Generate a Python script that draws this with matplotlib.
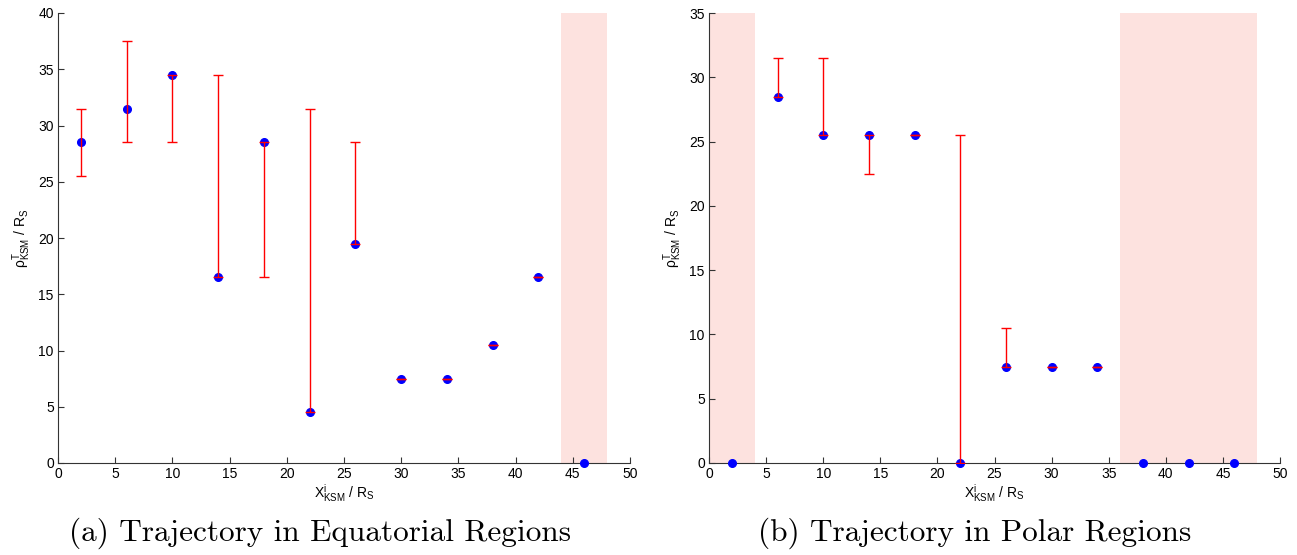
import numpy as np
import matplotlib
matplotlib.use("Agg")
import matplotlib.pyplot as plt

plt.rcParams['font.family'] = ['Liberation Sans', 'DejaVu Sans']
plt.rcParams['mathtext.fontset'] = 'custom'
plt.rcParams['mathtext.rm'] = 'Liberation Sans'
plt.rcParams['mathtext.it'] = 'Liberation Sans:italic'

x_pos = [2, 6, 10, 14, 18, 22, 26, 30, 34, 38, 42, 46]

# (a) Equatorial
eq_y = [28.5, 31.5, 34.5, 16.5, 28.5, 4.5, 19.5, 7.5, 7.5, 10.5, 16.5, 0]
eq_lo = [3, 3, 6, 0, 12, 0, 0, 0, 0, 0, 0, 0]
eq_hi = [3, 6, 0, 18, 0, 27, 9, 0, 0, 0, 0, 0]
eq_has_err = [1, 1, 1, 1, 1, 1, 1, 1, 1, 1, 1, 0]
eq_shade = [(44, 48)]

# (b) Polar
po_y = [0, 28.5, 25.5, 25.5, 25.5, 0, 7.5, 7.5, 7.5, 0, 0, 0]
po_lo = [0, 0, 0, 3, 0, 0, 0, 0, 0, 0, 0, 0]
po_hi = [0, 3, 6, 0, 0, 25.5, 3, 0, 0, 0, 0, 0]
po_has_err = [0, 1, 1, 1, 1, 1, 1, 1, 1, 0, 0, 0]
po_shade = [(0, 4), (36, 48)]

captions = ["(a) Trajectory in Equatorial Regions", "(b) Trajectory in Polar Regions"]

W, H = 1297, 555
fig = plt.figure(figsize=(W / 100, H / 100), dpi=100)

def px_axes(l, r, t, b):
    return fig.add_axes([l / W, 1 - b / H, (r - l) / W, (b - t) / H])

ax1 = px_axes(58, 630, 13, 463)
ax2 = px_axes(709, 1280, 13, 463)

shade_color = '#fde2df'

def draw(ax, y, lo, hi, has, shades, ymax):
    for a, b in shades:
        ax.axvspan(a, b, color=shade_color, lw=0, zorder=0)
    x = np.array(x_pos, float)
    y = np.array(y, float)
    lo = np.array(lo, float)
    hi = np.array(hi, float)
    m = np.array(has, bool)
    ax.plot(x, y, 'o', color='#0000ff', ms=5.5, zorder=3, clip_on=False)
    ax.errorbar(x[m], y[m], yerr=[lo[m], hi[m]], fmt='none', ecolor='#ff0000',
                elinewidth=1.0, capsize=3.7, capthick=1.0, zorder=4)
    ax.set_xlim(0, 50)
    ax.set_ylim(0, ymax)
    ax.set_xticks(np.arange(0, 51, 5))
    ax.set_yticks(np.arange(0, ymax + 1, 5))
    for s in ['top', 'right']:
        ax.spines[s].set_visible(False)
    for s in ['left', 'bottom']:
        ax.spines[s].set_color('#333333')
        ax.spines[s].set_linewidth(0.8)
    ax.tick_params(direction='in', length=4.5, width=0.8, labelsize=10, color='#333333',
                   pad=3)
    ax.set_xlabel(r'X$^{\mathrm{i}}_{\mathrm{KSM}}$ / R$_{\mathrm{S}}$', fontsize=10, labelpad=1)
    ax.set_ylabel(r'$\mathrm{ρ}^{\mathrm{T}}_{\mathrm{KSM}}$ / R$_{\mathrm{S}}$', fontsize=10, labelpad=4)

draw(ax1, eq_y, eq_lo, eq_hi, eq_has_err, eq_shade, 40)
draw(ax2, po_y, po_lo, po_hi, po_has_err, po_shade, 35)

fig.text(320 / W, 1 - 533 / H, captions[0], family='cmr10', fontsize=22.5,
         ha='center', va='center')
fig.text(975 / W, 1 - 533 / H, captions[1], family='cmr10', fontsize=22.5,
         ha='center', va='center')

fig.savefig('out.png', dpi=100)
